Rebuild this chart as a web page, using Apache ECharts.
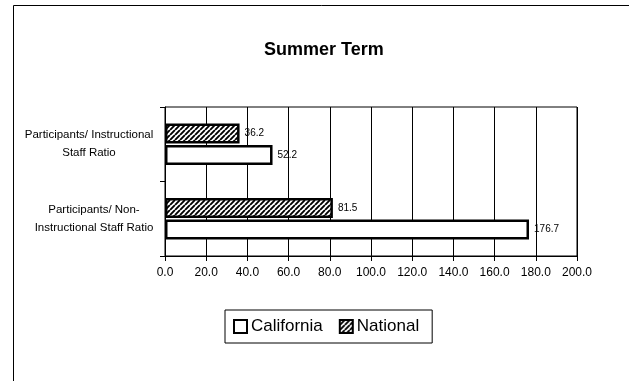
<!DOCTYPE html>
<html>
<head>
<meta charset="utf-8">
<script src="https://cdn.jsdelivr.net/npm/echarts@6/dist/echarts.min.js"></script>
<style>
html,body{margin:0;padding:0;background:#fff;}
#chart{width:629px;height:381px;}
</style>
</head>
<body>
<div id="chart"></div>
<script>
const titleText = 'Summer Term';
const categories = ['Participants/ Non-\nInstructional Staff Ratio', 'Participants/ Instructional\nStaff Ratio'];
const seriesNames = ['California', 'National'];
const californiaValues = [176.7, 52.2];
const nationalValues = [81.5, 36.2];
const xTicks = { min: 0, max: 200, interval: 20 };

const FONT = "'Liberation Sans', Arial, sans-serif";
const YLABEL_SIZE = 11.5;

// hatch pattern
const pc = document.createElement('canvas');
pc.width = 5; pc.height = 5;
const pctx = pc.getContext('2d');
pctx.fillStyle = '#fff';
pctx.fillRect(0, 0, 5, 5);
pctx.strokeStyle = '#000';
pctx.lineWidth = 1.9;
pctx.beginPath();
for (let k = -5; k <= 10; k += 5) {
  pctx.moveTo(k, 5);
  pctx.lineTo(k + 5, 0);
}
pctx.stroke();
const hatch = { image: pc, repeat: 'repeat' };

// measure label widths to center lines inside a right-aligned block
const mc = document.createElement('canvas').getContext('2d');
mc.font = YLABEL_SIZE + 'px ' + FONT;
const labelWidths = categories.map(c => Math.max(...c.split('\n').map(l => mc.measureText(l).width)));
const rich = {};
categories.forEach((c, i) => {
  rich['l' + i] = { width: Math.ceil(labelWidths[i]) + 1, align: 'center', fontSize: YLABEL_SIZE, fontFamily: FONT, color: '#000', lineHeight: 18 };
});

const labelStyle = { show: true, position: 'right', distance: 5, fontFamily: FONT, fontSize: 10, color: '#000', formatter: p => p.value.toFixed(1) };

const chart = echarts.init(document.getElementById('chart'), null, { renderer: 'canvas' });
chart.setOption({
  animation: false,
  backgroundColor: '#fff',
  textStyle: { fontFamily: FONT, color: '#000' },
  graphic: [{
    type: 'rect', shape: { x: 13.5, y: 5.5, width: 700, height: 500 },
    style: { fill: 'none', stroke: '#000', lineWidth: 1 }, silent: true, z: -10
  }],
  title: {
    text: titleText, left: 264, top: 41, padding: 0,
    textStyle: { fontFamily: FONT, fontSize: 18, fontWeight: 'bold', color: '#000' }
  },
  legend: {
    data: seriesNames, left: 225, top: 310, orient: 'horizontal',
    padding: [8, 13, 8, 8], itemGap: 16, itemWidth: 13, itemHeight: 13,
    borderColor: '#000', borderWidth: 1, icon: 'rect',
    textStyle: { fontFamily: FONT, fontSize: 17, color: '#000', padding: [0, 0, 0, -1] }
  },
  grid: { left: 165, right: 52, top: 107, bottom: 125, show: true, borderColor: '#000', borderWidth: 1, containLabel: false, outerBoundsMode: 'none' },
  xAxis: {
    type: 'value', min: xTicks.min, max: xTicks.max, interval: xTicks.interval,
    axisLine: { show: true, lineStyle: { color: '#000', width: 1 } },
    axisTick: { show: true, inside: false, length: 5, lineStyle: { color: '#000' } },
    splitLine: { show: true, lineStyle: { color: '#000', width: 1 } },
    axisLabel: { formatter: v => v.toFixed(1), fontFamily: FONT, fontSize: 12, color: '#000', margin: 11 }
  },
  yAxis: {
    type: 'category', data: categories,
    axisLine: { show: true, lineStyle: { color: '#000', width: 1 } },
    axisTick: { show: true, inside: false, length: 5, alignWithLabel: false, lineStyle: { color: '#000' } },
    axisLabel: {
      margin: 11, align: 'right', lineHeight: 18, fontSize: YLABEL_SIZE, fontFamily: FONT, color: '#000',
      formatter: (v, i) => v.split('\n').map(l => '{l' + i + '|' + l + '}').join('\n'),
      rich: rich
    }
  },
  series: [
    {
      name: seriesNames[1], type: 'bar', data: nationalValues,
      barWidth: 20, barGap: '8%', barCategoryGap: '42%',
      itemStyle: { color: hatch, borderColor: '#000', borderWidth: 2.5 },
      label: labelStyle, z: 3
    },
    {
      name: seriesNames[0], type: 'bar', data: californiaValues,
      barWidth: 20, barGap: '8%', barCategoryGap: '42%',
      itemStyle: { color: '#fff', borderColor: '#000', borderWidth: 2.5 },
      label: labelStyle, z: 3
    }
  ]
});
</script>
</body>
</html>
